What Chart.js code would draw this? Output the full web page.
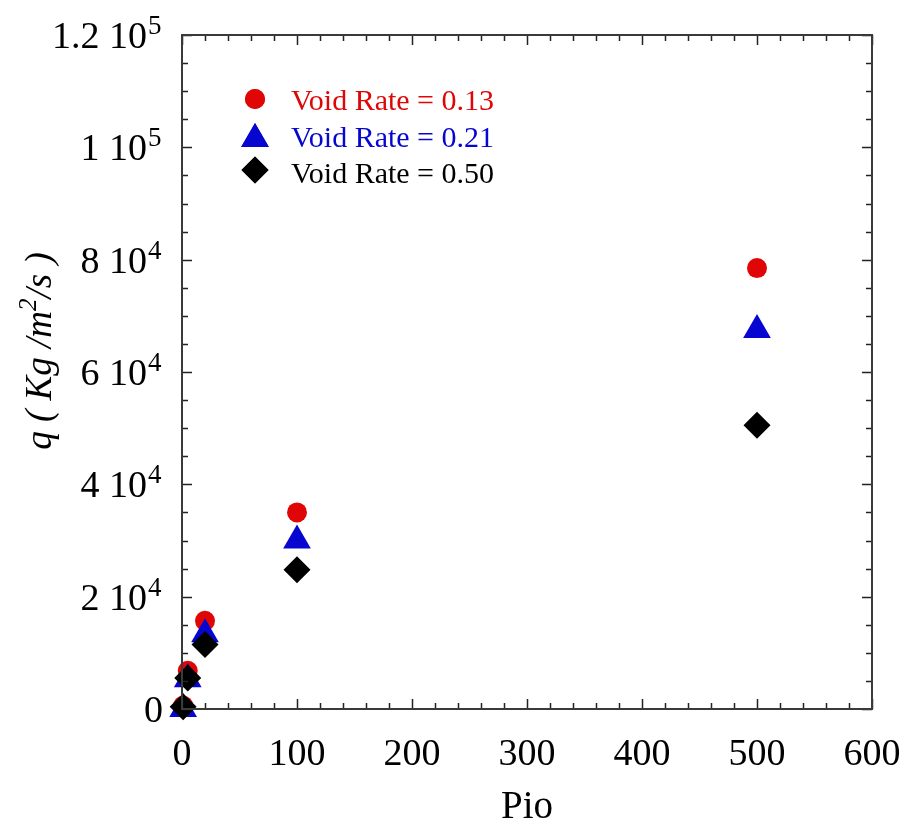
<!DOCTYPE html>
<html>
<head>
<meta charset="utf-8">
<script src="https://cdn.jsdelivr.net/npm/chart.js@4/dist/chart.umd.min.js"></script>
<style>
  html, body { margin: 0; padding: 0; background: #fff; }
  #wrap { width: 905px; height: 825px; }
</style>
</head>
<body>
<div id="wrap"><canvas id="chart" width="905" height="825"></canvas></div>
<script>
// data
const pio      = [1, 5, 20, 100, 500];
const void013  = [600, 6800, 15700, 35000, 78500];
const void021  = [0, 5300, 13300, 30000, 67500];
const void050  = [400, 5500, 11500, 24800, 50500];
const seriesLabels = ['Void Rate = 0.13', 'Void Rate = 0.21', 'Void Rate = 0.50'];

const xTicks      = [0, 100, 200, 300, 400, 500, 600];
const xTickLabels = ['0', '100', '200', '300', '400', '500', '600'];
const yTicks      = [0, 20000, 40000, 60000, 80000, 100000, 120000];
const yTickBase   = ['0', '2 10', '4 10', '6 10', '8 10', '1 10', '1.2 10'];
const yTickExp    = ['', '4', '4', '4', '4', '5', '5'];
const xMinorStep = 20, yMinorStep = 5000;

const RED = '#e00606', BLUE = '#0606d0', BLACK = '#000000';
const SERIF = '"Liberation Serif", "DejaVu Serif", serif';

function pts(ys) { return pio.map((x, i) => ({ x, y: ys[i] })); }

// order: black drawn on top, red at the bottom
const DATASETS = [
  { label: seriesLabels[0], data: pts(void013), color: RED,   style: 'circle',   radius: 10,   order: 2 },
  { label: seriesLabels[1], data: pts(void021), color: BLUE,  style: 'triangle', radius: 16,   order: 1 },
  { label: seriesLabels[2], data: pts(void050), color: BLACK, style: 'rectRot',  radius: 13.5, order: 0 },
];

// frame, inward ticks, tick labels, titles and legend
const decor = {
  id: 'decor',
  afterDraw(chart) {
    const { ctx, chartArea: a, scales: { x, y } } = chart;
    ctx.save();

    // ticks (major + minor) on all four sides, pointing in
    ctx.strokeStyle = '#222';
    ctx.lineWidth = 1.5;
    ctx.beginPath();
    for (let v = 0; v <= 600; v += xMinorStep) {
      const px = Math.round(x.getPixelForValue(v)) + 0.5;
      const len = v % 100 === 0 ? 10 : 6;
      ctx.moveTo(px, a.bottom); ctx.lineTo(px, a.bottom - len);
      ctx.moveTo(px, a.top);    ctx.lineTo(px, a.top + len);
    }
    for (let v = 0; v <= 120000; v += yMinorStep) {
      const py = Math.round(y.getPixelForValue(v)) + 0.5;
      const len = v % 20000 === 0 ? 10 : 6;
      ctx.moveTo(a.left, py);  ctx.lineTo(a.left + len, py);
      ctx.moveTo(a.right, py); ctx.lineTo(a.right - len, py);
    }
    ctx.stroke();

    // frame
    ctx.strokeStyle = '#3a3a3a';
    ctx.lineWidth = 2;
    ctx.strokeRect(a.left, a.top, a.right - a.left, a.bottom - a.top);

    // x tick labels
    ctx.fillStyle = '#000';
    ctx.font = '38px ' + SERIF;
    ctx.textAlign = 'center';
    ctx.textBaseline = 'alphabetic';
    xTicks.forEach((v, i) => ctx.fillText(xTickLabels[i], x.getPixelForValue(v), 765));

    // y tick labels with exponents
    yTicks.forEach((v, i) => {
      const py = y.getPixelForValue(v);
      ctx.font = '38px ' + SERIF;
      ctx.textAlign = 'right';
      if (yTickExp[i]) {
        ctx.fillText(yTickBase[i], 147, py + 13);
        ctx.font = '27px ' + SERIF;
        ctx.textAlign = 'left';
        ctx.fillText(yTickExp[i], 148, py - 1);
      } else {
        ctx.fillText(yTickBase[i], 163, py + 13);
      }
    });

    // x title
    ctx.font = '39px ' + SERIF;
    ctx.textAlign = 'center';
    ctx.fillText('Pio', 527, 818);

    // y title, rotated, with superscript
    ctx.save();
    ctx.translate(51, 351);
    ctx.rotate(-Math.PI / 2);
    const f1 = 'italic 37px ' + SERIF, f2 = 'italic 25px ' + SERIF;
    const parts = [['q ( Kg /m', f1, 0], ['2', f2, -15], ['/s )', f1, 0]];
    let total = 0;
    parts.forEach(p => { ctx.font = p[1]; total += ctx.measureText(p[0]).width; });
    let cx = -total / 2;
    ctx.textAlign = 'left';
    parts.forEach(p => {
      ctx.font = p[1];
      ctx.fillText(p[0], cx, p[2]);
      cx += ctx.measureText(p[0]).width;
    });
    ctx.restore();

    // legend
    const rows = [110, 147, 183];
    DATASETS.forEach((d, i) => {
      const cy = [99, 139, 170][i];
      ctx.fillStyle = d.color;
      ctx.strokeStyle = d.color;
      Chart.helpers.drawPoint(ctx, { pointStyle: d.style, radius: d.radius, borderWidth: 0, rotation: 0 }, 255, cy);
      ctx.fill();
      ctx.font = '30px ' + SERIF;
      ctx.textAlign = 'left';
      ctx.fillText(d.label, 291, rows[i]);
    });

    ctx.restore();
  },
};

new Chart(document.getElementById('chart'), {
  type: 'scatter',
  data: {
    datasets: DATASETS.map(d => ({
      label: d.label,
      data: d.data,
      order: d.order,
      pointStyle: d.style,
      pointRadius: d.radius,
      pointHoverRadius: d.radius,
      pointBackgroundColor: d.color,
      pointBorderColor: d.color,
      pointBorderWidth: 0,
      clip: false,
    })),
  },
  options: {
    responsive: false,
    animation: false,
    events: [],
    layout: { padding: { left: 182, top: 35, right: 33, bottom: 116 } },
    scales: {
      x: { type: 'linear', min: 0, max: 600, display: false },
      y: { type: 'linear', min: 0, max: 120000, display: false },
    },
    plugins: { legend: { display: false }, tooltip: { enabled: false } },
  },
  plugins: [decor],
});
</script>
</body>
</html>
